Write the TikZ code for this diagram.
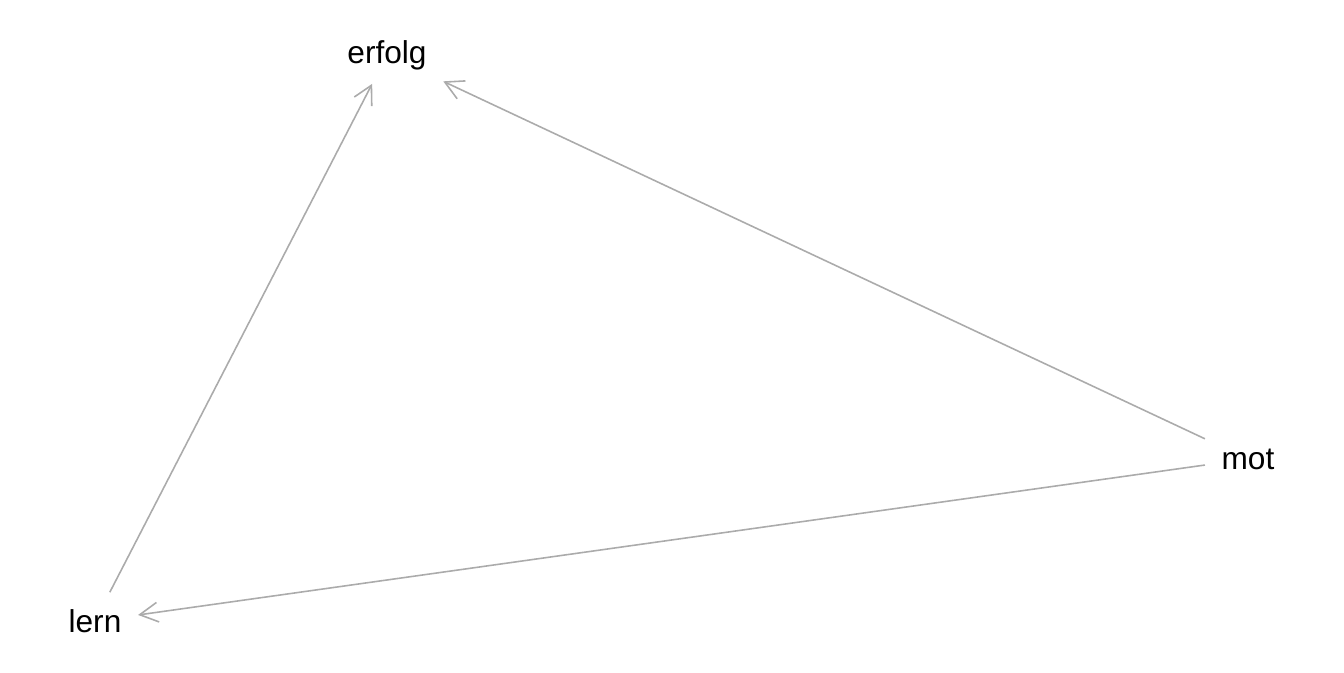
\documentclass[tikz,border=0pt]{standalone}
\usepackage{fontspec}
\setmainfont{Liberation Sans}
\usepackage{tikz}
\usetikzlibrary{arrows.meta}
\usepackage{xcolor}
\definecolor{linhacinza}{HTML}{ABABAB}

\begin{document}
\begin{tikzpicture}[
    var/.style={inner xsep=4.55pt, inner ysep=0pt, minimum height=16pt, font=\fontsize{9}{11}\selectfont},
    seta/.style={draw=linhacinza, line width=0.45pt, -{Straight Barb[length=5.2pt, width=5.6pt]}}
  ]
        \useasboundingbox (0,0) rectangle (13.44,6.72);
        % Variaveis
        \node[var] (erfolg) at (3.87,6.17) {erfolg};
        \node[var] (mot) at (12.48,2.13) {mot};
        \node[var] (lern) at (0.95,0.51) {lern};
        % Caminhos
        \draw[seta] (lern) -- (erfolg);
        \draw[seta] (mot) -- (erfolg);
        \draw[seta] (mot) -- (lern);
    \end{tikzpicture}
\end{document}
